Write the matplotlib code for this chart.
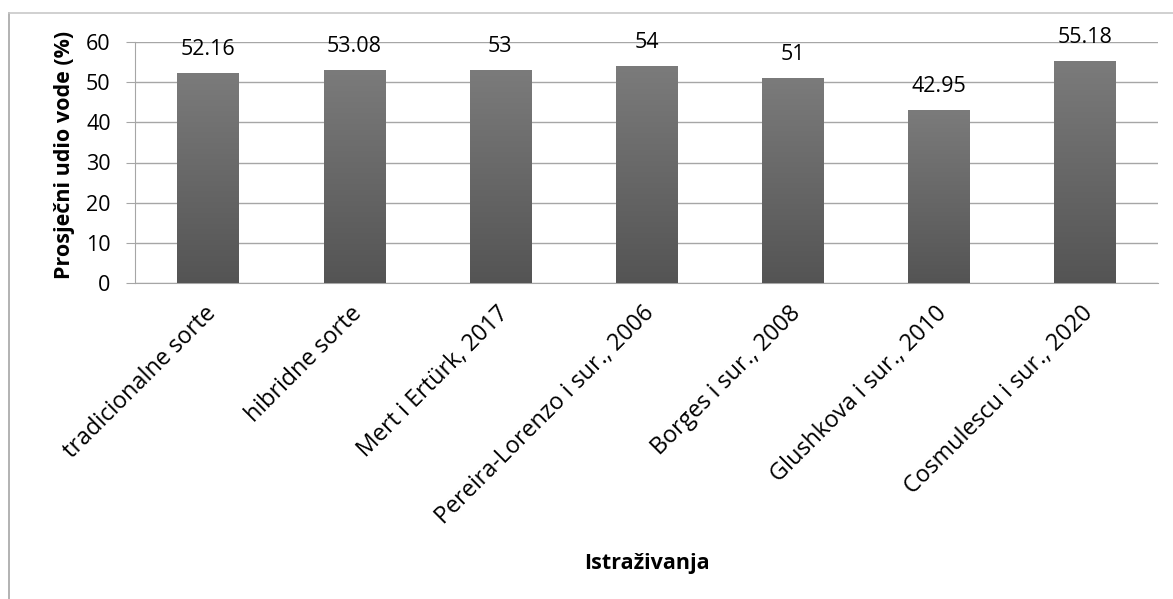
import matplotlib
matplotlib.use("Agg")
import matplotlib.pyplot as plt
import matplotlib.transforms as mtransforms
import numpy as np
from matplotlib.lines import Line2D
from matplotlib.colors import LinearSegmentedColormap

categories = ["tradicionalne sorte", "hibridne sorte", "Mert i Ertürk, 2017",
              "Pereira-Lorenzo i sur., 2006", "Borges i sur., 2008",
              "Glushkova i sur., 2010", "Cosmulescu i sur., 2020"]
values = [52.16, 53.08, 53, 54, 51, 42.95, 55.18]
value_labels = ["52.16", "53.08", "53", "54", "51", "42.95", "55.18"]
yticks = [0, 10, 20, 30, 40, 50, 60]

plt.rcParams['font.family'] = ['Open Sans', 'DejaVu Sans']
FS = 15.5

fig = plt.figure(figsize=(11.73, 5.99), dpi=100)
ax = fig.add_axes([135/1173, 1-283/599, (1158-135)/1173, (283-42)/599])

x = np.arange(len(categories))
bars = ax.bar(x, values, width=0.42, color='#666666', zorder=3)
ax.set_xlim(-0.5, len(categories)-0.5)
ax.set_ylim(0, 60)

# gradient fill for bars
grad = np.linspace(0, 1, 256).reshape(-1, 1)
cmap = LinearSegmentedColormap.from_list('g', ['#545454', '#7b7b7b'])
for b in bars:
    x0, y0 = b.get_x(), b.get_y()
    w, h = b.get_width(), b.get_height()
    im = ax.imshow(grad, cmap=cmap, aspect='auto', origin='lower',
                   extent=(x0, x0 + w, y0, y0 + h), zorder=4)
    im.set_clip_path(b)

for xi, v, lab in zip(x, values, value_labels):
    ax.annotate(lab, (xi, v), xytext=(0, 13), textcoords='offset points',
                ha='center', va='baseline', fontsize=FS, color='black', zorder=5)

ax.set_yticks(yticks)
ax.set_yticklabels([str(t) for t in yticks], fontsize=FS)
ax.yaxis.grid(True, color='#a6a6a6', linewidth=1.0, zorder=0)
ax.set_axisbelow(True)
for s in ['top', 'right']:
    ax.spines[s].set_visible(False)
ax.spines['left'].set_color('#a6a6a6')
ax.spines['bottom'].set_color('#a6a6a6')
ax.tick_params(axis='y', length=6.5, color='#a6a6a6', pad=11)
ax.tick_params(axis='x', length=0, pad=6)
ax.set_xticks(x)
ax.set_xticklabels(categories, rotation=45, ha='right', va='top',
                   rotation_mode='anchor', fontsize=16.8)
for lbl in ax.get_xticklabels():
    lbl.set_transform(lbl.get_transform() +
                      mtransforms.ScaledTranslation(-4/100, -10/100, fig.dpi_scale_trans))

ax.set_ylabel("Prosječni udio vode (%)", fontsize=FS, fontweight='bold')
ax.yaxis.set_label_coords((75-135)/1023, 0.53)
fig.text((135+1158)/2/1173, 1-563/599, "Istraživanja", ha='center', va='center',
         fontsize=FS, fontweight='bold')

# outer chart border (left and top visible)
fig.add_artist(Line2D([9/1173, 9/1173], [0, 1-13/599], transform=fig.transFigure,
                      color='#a6a6a6', linewidth=1.2))
fig.add_artist(Line2D([9/1173, 1], [1-13/599, 1-13/599], transform=fig.transFigure,
                      color='#c8c8c8', linewidth=1.2))

fig.savefig("out.png", dpi=100, facecolor='white')
